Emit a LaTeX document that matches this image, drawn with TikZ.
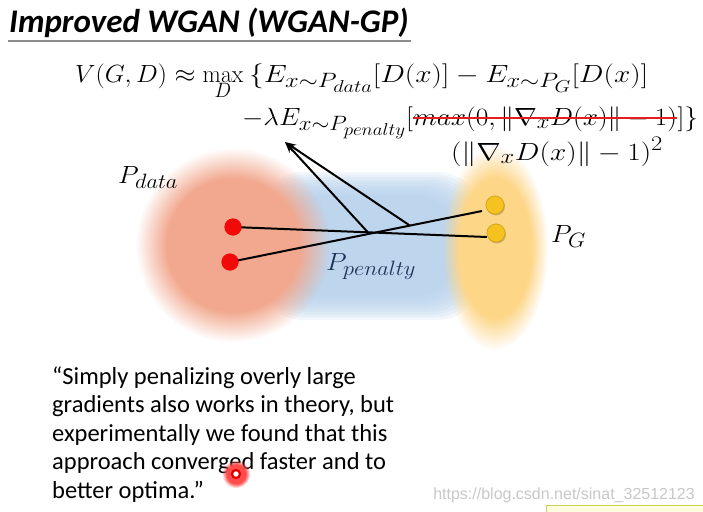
\documentclass[tikz,border=0pt]{standalone}
\usepackage[no-math]{fontspec}
\usepackage{graphicx}
\setmainfont{Carlito}
\newfontfamily\wmfont{Liberation Sans}
\usetikzlibrary{fadings,arrows.meta}
\DeclareMathSizes{27}{27}{20}{16}
\definecolor{blobred}{RGB}{242,168,142}
\definecolor{blobblue}{RGB}{180,209,237}
\definecolor{blobyellow}{RGB}{253,214,136}
\definecolor{dotred}{RGB}{242,10,10}
\definecolor{dotgold}{RGB}{245,194,32}
\definecolor{navy}{RGB}{32,50,90}
\definecolor{wmgray}{RGB}{200,200,200}
\definecolor{strikered}{RGB}{232,28,28}
\definecolor{rulegray}{RGB}{140,140,140}
\pgfdeclareradialshading{softshade}{\pgfpointorigin}{color(0bp)=(white); color(17bp)=(white); color(25bp)=(black); color(50bp)=(black)}
\pgfdeclarefading{softedge}{\pgfuseshading{softshade}}
\newcommand{\eqtxt}[2][1.08]{\scalebox{#1}[1]{$#2$}}
\tikzset{
  eq/.style={inner sep=0pt, font=\fontsize{27}{32}\selectfont},
  lbl/.style={inner sep=0pt, font=\fontsize{27}{32}\selectfont},
  link/.style={line width=2pt, black},
  pointer/.style={line width=2pt, black, -{Stealth[length=11pt,width=8pt]}},
  reddot/.style={circle, fill=dotred, minimum size=17pt, inner sep=0pt},
  golddot/.style={circle, fill=dotgold, draw=dotgold!85!black, line width=0.6pt, minimum size=18pt, inner sep=0pt},
}
\begin{document}
\begin{tikzpicture}[x=1pt,y=-1pt]
\useasboundingbox (0,0) rectangle (703,511);
\fill[white] (0,0) rectangle (703,511);
% title
\node[inner sep=0pt, anchor=base west, font=\fontsize{33}{36}\selectfont\bfseries\itshape] (title) at (9,33) {Improved WGAN (WGAN-GP)};
\draw[rulegray, line width=1.8pt] (8,41) -- (411,41);
% blobs
\foreach \i in {0,...,9} {
  \fill[blobblue, opacity=0.17, rounded corners=45pt] (258+2.6*\i,172+2.6*\i) rectangle (482-2.6*\i,320-2.6*\i);
}
\fill[blobred, path fading=softedge] (233,245) circle (97);
\fill[blobyellow, path fading=softedge] (495,248) ellipse (53 and 102);
% dots
\node[reddot] (r1) at (233,227) {};
\node[reddot] (r2) at (230,262) {};
\node[golddot] (g1) at (495,205) {};
\node[golddot] (g2) at (496,233) {};
\coordinate (ea) at (487,237);
\coordinate (eb) at (482,211);
\coordinate (tip) at (285,142);
\draw[link] (r1.center) -- (ea) coordinate[pos=0.531] (pa);
\draw[link] (r2.center) -- (eb) coordinate[pos=0.714] (pb);
\draw[pointer] (pa) -- (tip);
\draw[pointer] (pb) -- (tip);
\node[reddot] at (r1) {};
\node[reddot] at (r2) {};
\fill[black, opacity=0.18] ([shift={(1,1.5)}]g1.center) circle (9);
\fill[black, opacity=0.18] ([shift={(1,1.5)}]g2.center) circle (9);
\node[golddot] at (g1) {};
\node[golddot] at (g2) {};
% labels
\node[lbl, anchor=base west] (pdata) at (118,183) {\eqtxt{P_{data}}};
\node[lbl, anchor=base west] (pg) at (551,242) {\eqtxt{P_{G}}};
\node[lbl, anchor=base west, text=navy] (ppen) at (326,270) {\eqtxt{P_{penalty}}};
% equation line 1
\node[eq, anchor=base west] (v) at (75,82) {\eqtxt[1.04]{V(G,D)}};
\node[eq, anchor=base] (ap) at (185,82) {\eqtxt{\approx}};
\node[eq, anchor=base] (mx) at (223,82) {\eqtxt[0.95]{\max\limits_D}};
\node[eq, anchor=base west] (l1) at (249,82) {\eqtxt[1.18]{\{E_{x\sim P_{data}}[D(x)] - E_{x\sim P_{G}}[D(x)]}};
% equation line 2
\node[eq, anchor=base west] (l2a) at (242,125) {\eqtxt[1.1]{-\lambda E_{x\sim P_{penalty}}[}};
\node[eq, anchor=base west] (l2b) at (l2a.base east) {\eqtxt[1.1]{max(0,\|\nabla_x D(x)\|-1)}};
\node[eq, anchor=base west] (l2c) at (l2b.base east) {\eqtxt[1.1]{]\}}};
\draw[strikered, line width=2.3pt] ([yshift=7pt]l2b.base west) -- ([yshift=7pt]l2b.base east);
% equation line 3
\node[eq, anchor=base west] (l3) at (451,160) {\eqtxt[1.18]{(\|\nabla_x D(x)\|-1)^2}};
% quote
\node[inner sep=0pt, anchor=north west, align=left, font=\fontsize{24.5}{28.5}\selectfont] (quote) at (52,366.5) {“Simply penalizing overly large\\gradients also works in theory, but\\experimentally we found that this\\approach converged faster and to\\better optima.”};
% pointer mark
\fill[red!70, path fading=softedge] (236,474) circle (14);
\draw[red!90!black, line width=2.2pt, fill=white] (236,474) circle (4);
% watermark
\node[inner sep=0pt, anchor=base east, text=wmgray, font=\wmfont\fontsize{16}{16}\selectfont] (wm) at (695,499) {https://blog.csdn.net/sinat\_32512123};
\draw[yellow!60!gray, fill=yellow!12, line width=0.8pt] (546,505) rectangle (710,520);
\end{tikzpicture}
\end{document}
